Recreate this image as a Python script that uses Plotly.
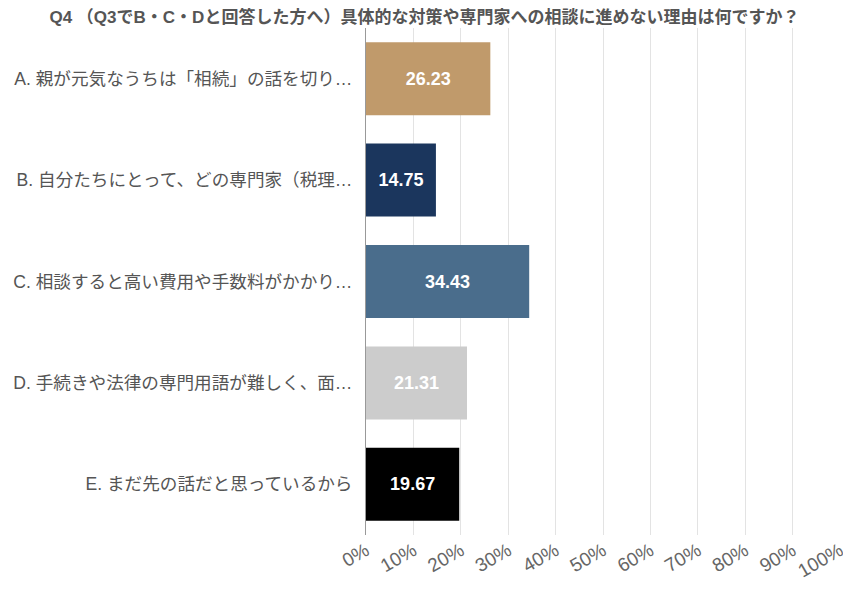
import plotly.graph_objects as go

# data
categories = [
    "A. 親が元気なうちは「相続」の話を切り…",
    "B. 自分たちにとって、どの専門家（税理…",
    "C. 相談すると高い費用や手数料がかかり…",
    "D. 手続きや法律の専門用語が難しく、面…",
    "E. まだ先の話だと思っているから",
]
values = [26.23, 14.75, 34.43, 21.31, 19.67]
bar_colors = ["#C09A6B", "#1B365D", "#4A6D8C", "#CCCCCC", "#000000"]
tick_vals = [0, 10, 20, 30, 40, 50, 60, 70, 80, 90, 100]
tick_text = [f"{v}%" for v in tick_vals]

title = "Q4 （Q3でB・C・Dと回答した方へ）具体的な対策や専門家への相談に進めない理由は何ですか？"
font_family = "Arial, Liberation Sans, Noto Sans CJK JP"

fig = go.Figure()
fig.add_trace(go.Bar(
    x=values,
    y=categories,
    orientation="h",
    marker=dict(color=bar_colors, line=dict(width=0)),
    text=[f"<b>{v:.2f}</b>" for v in values],
    textposition="inside",
    insidetextanchor="middle",
    textfont=dict(color="white", size=18, family=font_family),
    hoverinfo="skip",
))

fig.update_yaxes(autorange="reversed", automargin=False,
                 showline=True, linecolor="#999999", linewidth=1,
                 ticks="", ticklabelstandoff=9,
                 tickfont=dict(size=17.6, color="#555555"))

fig.update_xaxes(range=[0, 100], automargin=False,
                 tickvals=tick_vals, ticktext=tick_text,
                 tickangle=-30,
                 showgrid=True, gridcolor="#E3E3E3", gridwidth=1,
                 zeroline=False,
                 tickfont=dict(size=19, color="#666666"))

# page body adds an 8px offset, so the figure is sized 8px smaller each way
fig.update_layout(
    title=dict(text="<b>" + title + "</b>", x=0.494, xanchor="center",
               y=0.994, yanchor="top",
               font=dict(size=17, color="#555555")),
    width=843, height=592,
    margin=dict(l=358, r=11, t=20, b=65),
    bargap=0.28,
    plot_bgcolor="white", paper_bgcolor="white",
    showlegend=False,
    uniformtext=dict(minsize=10, mode="show"),
    font=dict(family=font_family),
)

fig.write_html("out.html")
